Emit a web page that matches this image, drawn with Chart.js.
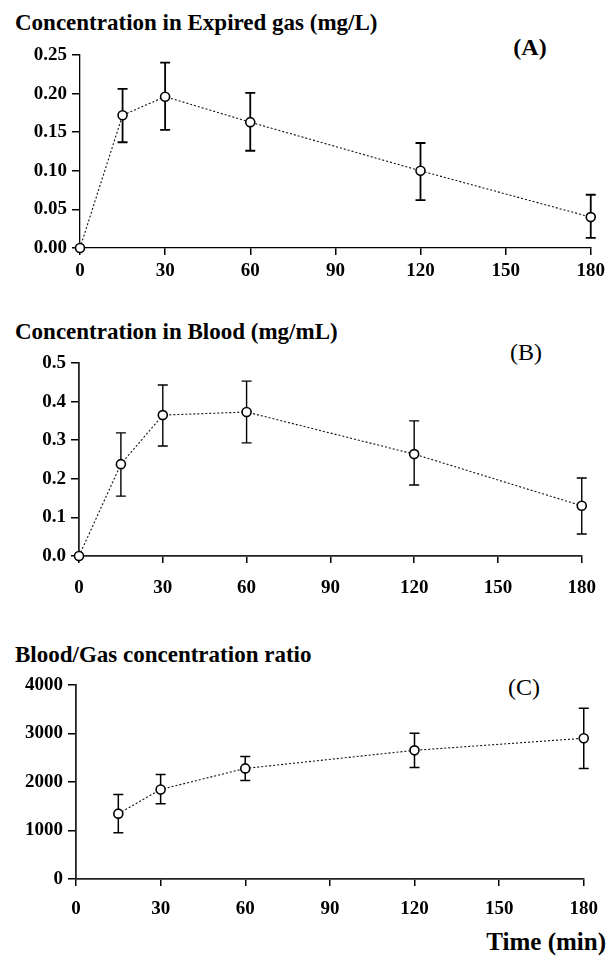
<!DOCTYPE html>
<html><head><meta charset="utf-8">
<script src="https://cdn.jsdelivr.net/npm/chart.js@4"></script>
<style>
body{margin:0;background:#fff;width:610px;height:958px;position:relative;overflow:hidden;font-family:"Liberation Serif","Times New Roman",serif;}
.t{position:absolute;font-weight:bold;font-size:23px;color:#000;line-height:1;white-space:nowrap;}
.p{position:absolute;font-size:24px;color:#000;line-height:1;white-space:nowrap;transform:translateX(-50%);}
canvas{position:absolute;left:0;}
</style></head><body>
<div class="t" style="left:15px;top:11px">Concentration in Expired gas (mg/L)</div>
<div class="p" style="left:530px;top:35px;font-weight:bold">(A)</div>
<div class="t" style="left:15px;top:320px">Concentration in Blood (mg/mL)</div>
<div class="p" style="left:526px;top:340px">(B)</div>
<div class="t" style="left:15px;top:643px">Blood/Gas concentration ratio</div>
<div class="p" style="left:524px;top:675px">(C)</div>
<div class="t" style="right:4px;top:929px;font-size:25px">Time (min)</div>
<canvas id="cA" width="610" height="295" style="top:0px"></canvas>
<canvas id="cB" width="610" height="310" style="top:300px"></canvas>
<canvas id="cC" width="610" height="300" style="top:620px"></canvas>
<script>
// ---- data ----
const timeAB = [0, 15, 30, 60, 120, 180];
const gasMean = [0, 0.172, 0.196, 0.163, 0.100, 0.040];
const gasUpper = [null, 0.206, 0.240, 0.201, 0.136, 0.069];
const gasLower = [null, 0.137, 0.153, 0.126, 0.062, 0.013];

const bloodMean = [0, 0.238, 0.365, 0.373, 0.264, 0.130];
const bloodUpper = [null, 0.319, 0.443, 0.453, 0.350, 0.202];
const bloodLower = [null, 0.155, 0.285, 0.293, 0.184, 0.057];

const timeC = [15, 30, 60, 120, 180];
const ratioMean = [1347, 1845, 2280, 2653, 2902];
const ratioUpper = [1740, 2155, 2528, 3005, 3523];
const ratioLower = [953, 1554, 2031, 2300, 2280];

const xTicks = [0, 30, 60, 90, 120, 150, 180];
const yTicksA = [0, 0.05, 0.10, 0.15, 0.20, 0.25];
const yTicksB = [0, 0.1, 0.2, 0.3, 0.4, 0.5];
const yTicksC = [0, 1000, 2000, 3000, 4000];

// ---- drawing ----
const FONT = {family: '"Liberation Serif","Times New Roman",serif', size: 19, weight: 'bold'};

const errorBars = {
  id: 'errorBars',
  beforeDatasetsDraw(chart, args, o) {
    const {ctx} = chart; const x = chart.scales.x, y = chart.scales.y;
    ctx.save();
    ctx.strokeStyle = '#000'; ctx.lineWidth = o.lw; ctx.setLineDash([]);
    o.xs.forEach((t, i) => {
      if (o.hi[i] == null) return;
      const px = x.getPixelForValue(t);
      const yh = y.getPixelForValue(o.hi[i]);
      const yl = y.getPixelForValue(o.lo[i]);
      ctx.beginPath();
      ctx.moveTo(px, yh); ctx.lineTo(px, yl);
      ctx.moveTo(px - o.cap, yh); ctx.lineTo(px + o.cap, yh);
      ctx.moveTo(px - o.cap, yl); ctx.lineTo(px + o.cap, yl);
      ctx.stroke();
    });
    ctx.restore();
  }
};

function make(id, xs, mean, hi, lo, yTicks, fmt, geo) {
  const h = document.getElementById(id).height;
  return new Chart(document.getElementById(id), {
    type: 'line',
    data: {datasets: [{
      data: xs.map((t, i) => ({x: t, y: mean[i]})),
      borderColor: '#111', borderWidth: 1.1, borderDash: [2, 2],
      pointRadius: 4.5, pointBorderWidth: 1.6, pointBackgroundColor: '#fff', pointBorderColor: '#000',
      tension: 0, clip: false
    }]},
    options: {
      responsive: false, animation: false, devicePixelRatio: 1,
      layout: {padding: {left: 0, right: 17, top: geo.top, bottom: 0}},
      plugins: {legend: {display: false}, tooltip: {enabled: false},
        errorBars: {xs, hi, lo, lw: geo.lw, cap: 5}},
      scales: {
        x: {type: 'linear', min: 0, max: 180,
          afterBuildTicks: s => { s.ticks = xTicks.map(v => ({value: v})); },
          afterFit: s => { s.height = h - geo.bottom; },
          grid: {drawOnChartArea: false, drawTicks: true, tickLength: 7, color: '#000', lineWidth: 1.5},
          border: {display: true, color: geo.axisColor, width: geo.axisW, dash: geo.dash},
          ticks: {font: FONT, color: '#000', padding: geo.xpad, maxRotation: 0, autoSkip: false}
        },
        y: {type: 'linear', min: yTicks[0], max: yTicks[yTicks.length - 1],
          afterBuildTicks: s => { s.ticks = yTicks.map(v => ({value: v})); },
          afterFit: s => { s.width = geo.left; },
          grid: {drawOnChartArea: false, drawTicks: true, tickLength: 8, color: '#000', lineWidth: 1.5},
          border: {display: true, color: geo.axisColor, width: geo.axisW, dash: geo.dash},
          ticks: {font: FONT, color: '#000', padding: 5, autoSkip: false, callback: v => fmt(v)}
        }
      }
    },
    plugins: [errorBars]
  });
}

make('cA', timeAB, gasMean, gasUpper, gasLower, yTicksA, v => v.toFixed(2),
  {top: 55, bottom: 248, left: 80, xpad: 5, lw: 1.8, axisColor: '#000', axisW: 1.3, dash: [2, 2]});
make('cB', timeAB, bloodMean, bloodUpper, bloodLower, yTicksB, v => v.toFixed(1),
  {top: 63, bottom: 256, left: 79, xpad: 14, lw: 1.4, axisColor: '#222', axisW: 1.8, dash: []});
make('cC', timeC, ratioMean, ratioUpper, ratioLower, yTicksC, v => String(v),
  {top: 65, bottom: 259, left: 76, xpad: 12, lw: 1.5, axisColor: '#222', axisW: 1.8, dash: []});
</script>
</body></html>
